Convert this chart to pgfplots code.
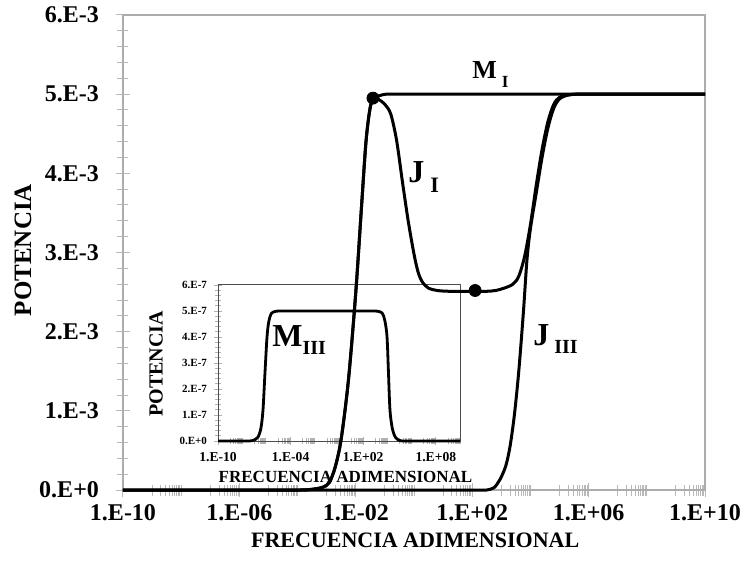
\documentclass[border=0pt]{standalone}
\usepackage{fontspec}
\setmainfont{Liberation Serif}
\usepackage{pgfplots}
\pgfplotsset{compat=1.18}

% minor ticks of the log axes: one full decade out of every two
\pgfplotsset{logminor/.style={minor xtick={
 1e-9,2e-9,3e-9,4e-9,5e-9,6e-9,7e-9,8e-9,9e-9,1e-8,
 1e-7,2e-7,3e-7,4e-7,5e-7,6e-7,7e-7,8e-7,9e-7,
 1e-5,2e-5,3e-5,4e-5,5e-5,6e-5,7e-5,8e-5,9e-5,1e-4,
 1e-3,2e-3,3e-3,4e-3,5e-3,6e-3,7e-3,8e-3,9e-3,
 1e-1,2e-1,3e-1,4e-1,5e-1,6e-1,7e-1,8e-1,9e-1,1,
 10,20,30,40,50,60,70,80,90,
 1e3,2e3,3e3,4e3,5e3,6e3,7e3,8e3,9e3,1e4,
 1e5,2e5,3e5,4e5,5e5,6e5,7e5,8e5,9e5,
 1e7,2e7,3e7,4e7,5e7,6e7,7e7,8e7,9e7,1e8,
 1e9,2e9,3e9,4e9,5e9,6e9,7e9,8e9,9e9,1e10}}}

\begin{document}
\begin{tikzpicture}
\useasboundingbox (-61.5pt,-38.5pt) rectangle (310pt,245pt);

% ---- inset: M_III ----
\begin{axis}[
  at={(47.5pt,24.5pt)}, anchor=south west,
  scale only axis, width=121pt, height=78pt,
  xmode=log, xmin=1e-10, xmax=1e10, ymin=0, ymax=6e-7,
  clip=false, scaled y ticks=false,
  xtick pos=bottom, ytick pos=left,
  xtick={1e-10,1e-4,1e2,1e8},
  xticklabels={1.E-10,1.E-04,1.E+02,1.E+08},
  logminor,
  ytick={0,1e-7,2e-7,3e-7,4e-7,5e-7,6e-7},
  yticklabels={0.E+0,1.E-7,2.E-7,3.E-7,4.E-7,5.E-7,6.E-7},
  minor y tick num=4,
  tick align=center,
  major tick length=4pt, minor tick length=3pt,
  tick style={gray!60, line width=0.4pt},
  axis line style={gray!60!black, line width=0.5pt},
  xticklabel style={font=\fontsize{6.8}{7}\selectfont\bfseries},
  yticklabel style={font=\fontsize{5.5}{6}\selectfont\bfseries},
  xlabel={FRECUENCIA ADIMENSIONAL},
  ylabel={POTENCIA},
  xlabel style={font=\fontsize{8.5}{9}\selectfont\bfseries, at={(axis description cs:0.527,-0.228)}, anchor=center, inner sep=0pt},
  ylabel style={font=\fontsize{10}{11}\selectfont\bfseries, at={(axis description cs:-0.256,0.494)}, anchor=center, inner sep=0pt},
]
\addplot[black, line width=1.4pt, smooth] coordinates {
 (1e-10,0) (1e-9,0) (6.310e-9,0) (2.512e-8,0) (7.943e-8,0.02e-7) (1.995e-7,0.15e-7)
 (3.548e-7,0.5e-7) (5.248e-7,1.2e-7) (7.586e-7,2.6e-7) (1.122e-6,4.0e-7)
 (1.585e-6,4.6e-7) (2.512e-6,4.9e-7) (5.012e-6,4.98e-7) (1.259e-5,5e-7)
 (5.012e-5,5e-7) (3.162e-4,5e-7) (3.162e-3,5e-7) (6.310e-2,5e-7) (1.585,5e-7)
 (25.12,5e-7) (199.5,5e-7) (794.3,5e-7) (1995,4.98e-7) (3981,4.9e-7)
 (6310,4.6e-7) (9333,4.0e-7) (1.230e4,2.6e-7) (1.622e4,1.2e-7) (2.512e4,0.5e-7)
 (4.467e4,0.15e-7) (1e5,0.02e-7) (2.512e5,0) (1e6,0) (6.310e6,0) (6.310e7,0)
 (6.310e8,0) (1e10,0)};
\node[anchor=base west, inner sep=0pt, font=\fontsize{16}{16}\selectfont\bfseries]
  at (axis cs:2.9e-6,3.62e-7) {M\raisebox{-4pt}{\fontsize{10}{10}\selectfont III}};
\end{axis}

% ---- main chart ----
\begin{axis}[
  at={(0pt,0pt)}, anchor=south west,
  scale only axis, width=291pt, height=237.5pt,
  xmode=log, xmin=1e-10, xmax=1e10, ymin=0, ymax=6e-3,
  clip=false, scaled y ticks=false,
  xtick pos=bottom, ytick pos=left,
  xtick={1e-10,1e-6,1e-2,1e2,1e6,1e10},
  xticklabels={1.E-10,1.E-06,1.E-02,1.E+02,1.E+06,1.E+10},
  logminor,
  ytick={0,1e-3,2e-3,3e-3,4e-3,5e-3,6e-3},
  yticklabels={0.E+0,1.E-3,2.E-3,3.E-3,4.E-3,5.E-3,6.E-3},
  minor y tick num=4,
  tick align=center,
  major tick length=7pt, minor tick length=5.5pt,
  tick style={gray!55, line width=0.5pt},
  axis line style={gray!65, line width=0.7pt},
  xticklabel style={font=\fontsize{12}{13}\selectfont\bfseries},
  yticklabel style={font=\fontsize{12}{13}\selectfont\bfseries},
  yticklabel shift=5pt,
  xlabel={FRECUENCIA ADIMENSIONAL},
  ylabel={POTENCIA},
  xlabel style={font=\fontsize{11}{12}\selectfont\bfseries, at={(axis description cs:0.502,-0.106)}, anchor=center, inner sep=0pt},
  ylabel style={font=\fontsize{12.5}{13}\selectfont\bfseries, at={(axis description cs:-0.172,0.505)}, anchor=center, inner sep=0pt},
]
% J_I
\addplot[black, line width=1.5pt, smooth] coordinates {
 (1e-10,0) (1e-8,0) (3.162e-7,0) (3.162e-6,0) (1.585e-5,0) (5.012e-5,0) (1.259e-4,0)
 (2.512e-4,0.005e-3) (5.012e-4,0.02e-3) (7.943e-4,0.04e-3) (1.259e-3,0.1e-3)
 (1.995e-3,0.3e-3) (3.162e-3,0.65e-3) (5.623e-3,1.4e-3) (1e-2,2.5e-3)
 (1.585e-2,3.6e-3) (2.239e-2,4.4e-3) (3.020e-2,4.8e-3) (3.890e-2,4.95e-3)
 (6.310e-2,4.93e-3) (0.1,4.87e-3) (0.1585,4.75e-3) (0.2512,4.42e-3)
 (0.3981,3.9e-3) (0.6310,3.4e-3) (1,2.98e-3) (1.413,2.74e-3) (1.995,2.62e-3)
 (3.162,2.55e-3) (6.310,2.52e-3) (15.85,2.51e-3) (50.12,2.51e-3) (125.9,2.51e-3)
 (316.2,2.51e-3) (631.0,2.52e-3) (1259,2.55e-3) (2512,2.6e-3) (3981,2.7e-3)
 (6310,2.95e-3) (1e4,3.35e-3) (1.585e4,3.85e-3) (2.512e4,4.3e-3) (3.981e4,4.65e-3)
 (6.310e4,4.87e-3) (1e5,4.96e-3) (1.995e5,4.99e-3) (3.981e5,5e-3) (1e6,5e-3)
 (3.162e6,5e-3) (1.585e7,5e-3) (1.585e8,5e-3) (1e10,5e-3)};
% M_I
\addplot[black, line width=1.5pt, smooth] coordinates {
 (1e-10,0) (1e-8,0) (3.162e-7,0) (3.162e-6,0) (1.585e-5,0) (5.012e-5,0) (1.259e-4,0)
 (2.512e-4,0.005e-3) (5.012e-4,0.02e-3) (7.943e-4,0.04e-3) (1.259e-3,0.1e-3)
 (1.995e-3,0.3e-3) (3.162e-3,0.65e-3) (5.623e-3,1.4e-3) (1e-2,2.5e-3)
 (1.585e-2,3.6e-3) (2.239e-2,4.4e-3) (3.020e-2,4.8e-3) (3.890e-2,4.93e-3)
 (6.310e-2,4.98e-3) (0.1122,5e-3) (0.2239,5e-3) (0.5623,5e-3) (1.995,5e-3)
 (10,5e-3) (100,5e-3) (1995,5e-3) (1e5,5e-3) (1e7,5e-3) (1e10,5e-3)};
% J_III
\addplot[black, line width=1.5pt, smooth] coordinates {
 (1e-10,0) (1e-7,0) (1e-4,0) (0.1,0) (6.31,0) (50.12,0) (158.5,0) (316.2,0)
 (562.3,0.03e-3) (891.3,0.13e-3) (1413,0.3e-3) (1995,0.55e-3) (2818,0.95e-3)
 (3981,1.5e-3) (5754,2.25e-3) (7586,2.9e-3) (1e4,3.3e-3) (1.585e4,3.75e-3)
 (2.512e4,4.2e-3) (3.981e4,4.57e-3) (6.310e4,4.82e-3) (1e5,4.94e-3)
 (1.995e5,4.99e-3) (3.981e5,5e-3) (1e6,5e-3) (3.162e6,5e-3) (1.585e7,5e-3)
 (1.585e8,5e-3) (1e10,5e-3)};
% marked points on J_I
\addplot[only marks, mark=*, mark size=3pt, black] coordinates {
 (3.890e-2,4.95e-3) (125.9,2.52e-3)};
% curve names
\node[anchor=base west, inner sep=0pt, font=\fontsize{13}{13}\selectfont\bfseries]
  at (axis cs:98.4,5.2e-3) {M\hspace{2.5pt}\raisebox{-4.5pt}{\fontsize{8.5}{9}\selectfont I}};
\node[anchor=base west, inner sep=0pt, font=\fontsize{16}{16}\selectfont\bfseries]
  at (axis cs:0.622,3.89e-3) {J\hspace{3pt}\raisebox{-5pt}{\fontsize{11}{11}\selectfont I}};
\node[anchor=base west, inner sep=0pt, font=\fontsize{16}{16}\selectfont\bfseries]
  at (axis cs:1.227e4,1.83e-3) {J\hspace{2.5pt}\raisebox{-4pt}{\fontsize{10}{10}\selectfont III}};
\end{axis}
\end{tikzpicture}
\end{document}
